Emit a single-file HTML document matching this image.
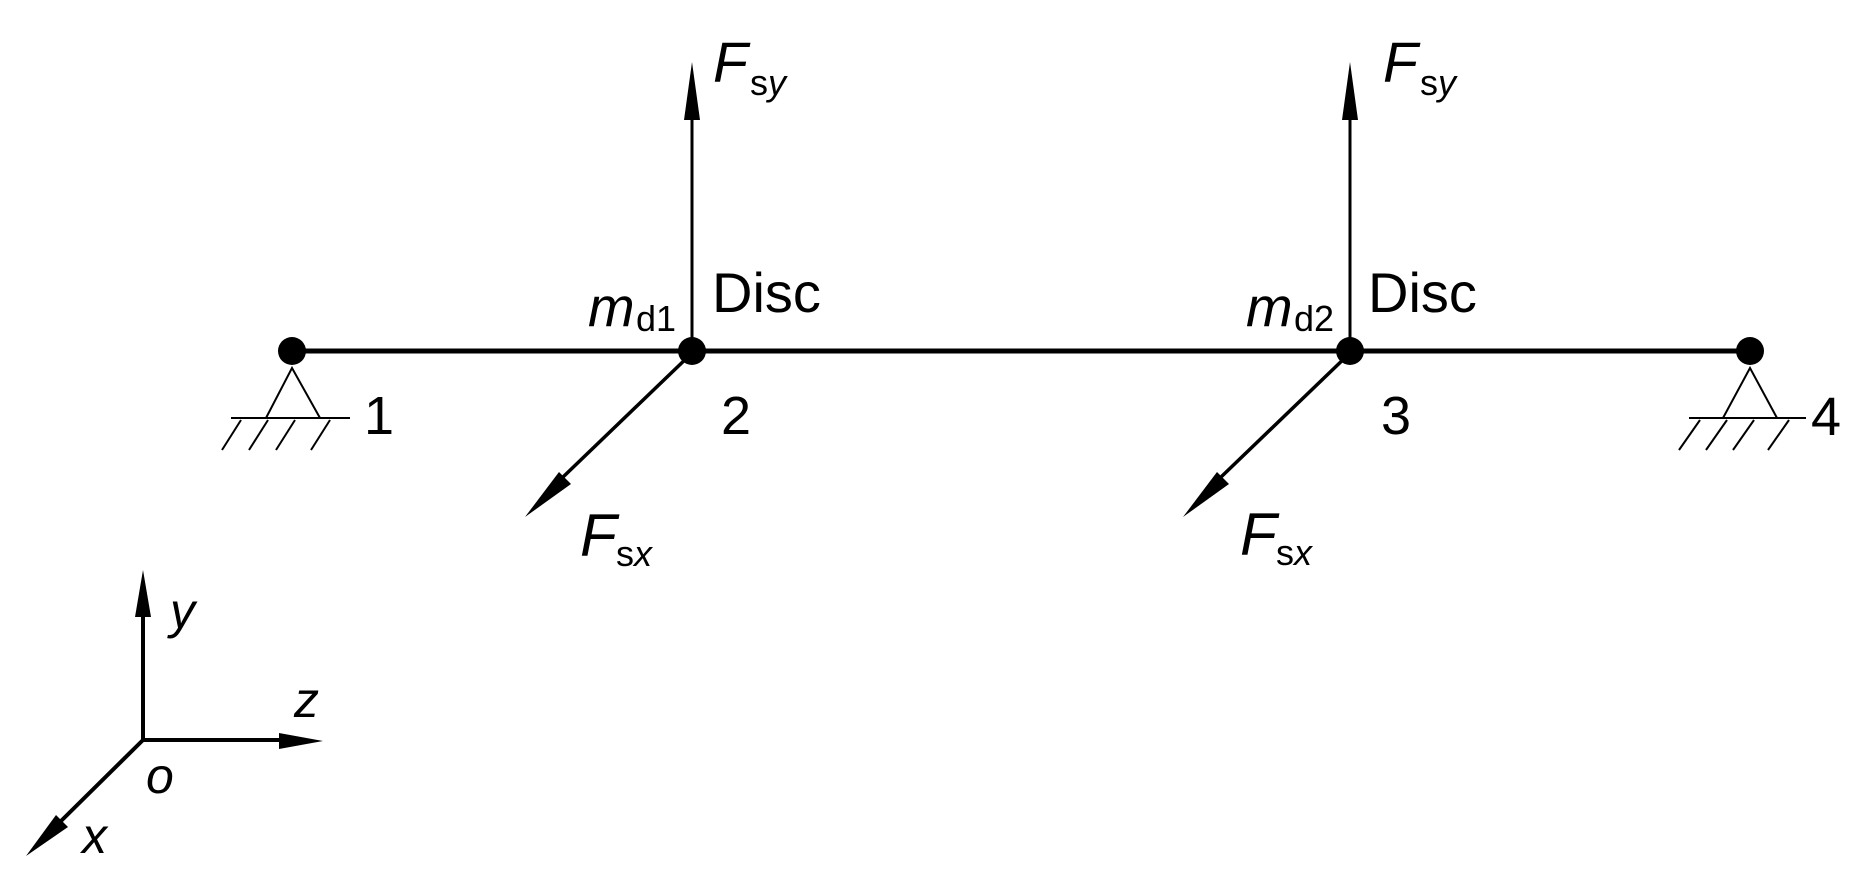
<!DOCTYPE html>
<html><head><meta charset="utf-8"><style>
html,body{margin:0;padding:0;background:#fff;}
svg{display:block;}
text{font-family:"Liberation Sans",Arial,sans-serif;fill:#000;}
.i{font-style:italic;}
</style></head><body>
<svg width="1869" height="883" viewBox="0 0 1869 883" xmlns="http://www.w3.org/2000/svg">
<g stroke="#000" fill="none">
<line x1="292" y1="351" x2="1750" y2="351" stroke-width="5"/>
<g stroke-width="2">
<polyline points="266,418 292,368 320,418"/>
<line x1="231" y1="418" x2="350" y2="418"/>
<line x1="241" y1="420" x2="222" y2="450"/>
<line x1="268" y1="420" x2="249" y2="450"/>
<line x1="295" y1="420" x2="276" y2="450"/>
<line x1="330" y1="420" x2="311" y2="450"/>
<polyline points="1723,418 1750,368 1777,418"/>
<line x1="1689" y1="418" x2="1806" y2="418"/>
<line x1="1700" y1="420" x2="1679" y2="450"/>
<line x1="1727" y1="420" x2="1706" y2="450"/>
<line x1="1754" y1="420" x2="1733" y2="450"/>
<line x1="1789" y1="420" x2="1768" y2="450"/>
</g>
<line x1="692" y1="351" x2="692" y2="118" stroke-width="3"/>
<line x1="1350" y1="351" x2="1350" y2="118" stroke-width="3"/>
<line x1="692" y1="353" x2="562" y2="478" stroke-width="3.5"/>
<line x1="1350" y1="353" x2="1220" y2="478" stroke-width="3.5"/>
<line x1="143" y1="740" x2="143" y2="612" stroke-width="4"/>
<line x1="143" y1="740" x2="282" y2="740" stroke-width="4"/>
<line x1="143" y1="740" x2="60" y2="822" stroke-width="4"/>
</g>
<g fill="#000">
<circle cx="292" cy="351" r="14"/>
<circle cx="692" cy="351" r="14"/>
<circle cx="1350" cy="351" r="14"/>
<circle cx="1750" cy="351" r="14"/>
<polygon points="692,62 684,120 700,120"/>
<polygon points="1350,62 1342,120 1358,120"/>
<polygon points="525,517 559,472 571,484"/>
<polygon points="1183,517 1217,472 1229,484"/>
<polygon points="143,570 135,617 151,617"/>
<polygon points="323,741 279,733 279,749"/>
<polygon points="26,856 56,815 68,827"/>
</g>
<text class="i" x="713" y="82" font-size="57">F</text><text x="750" y="95" font-size="36">s<tspan class="i">y</tspan></text>
<text class="i" x="1383" y="82" font-size="57">F</text><text x="1420" y="95" font-size="36">s<tspan class="i">y</tspan></text>
<text x="712" y="312" font-size="56">Disc</text>
<text x="1368" y="312" font-size="56">Disc</text>
<text class="i" x="588" y="326" font-size="56">m</text><text x="636" y="331" font-size="36">d1</text>
<text class="i" x="1246" y="326" font-size="56">m</text><text x="1294" y="331" font-size="36">d2</text>
<text x="364" y="434" font-size="54">1</text>
<text x="721" y="434" font-size="54">2</text>
<text x="1381" y="434" font-size="54">3</text>
<text x="1811" y="435" font-size="54">4</text>
<text class="i" x="580" y="556" font-size="60">F</text><text x="616" y="566" font-size="36">s<tspan class="i">x</tspan></text>
<text class="i" x="1240" y="555" font-size="60">F</text><text x="1276" y="565" font-size="36">s<tspan class="i">x</tspan></text>
<text class="i" x="170" y="628" font-size="50">y</text>
<text class="i" x="294" y="717" font-size="50">z</text>
<text class="i" x="146" y="793" font-size="50">o</text>
<text class="i" x="82" y="853" font-size="50">x</text>
</svg>
</body></html>
